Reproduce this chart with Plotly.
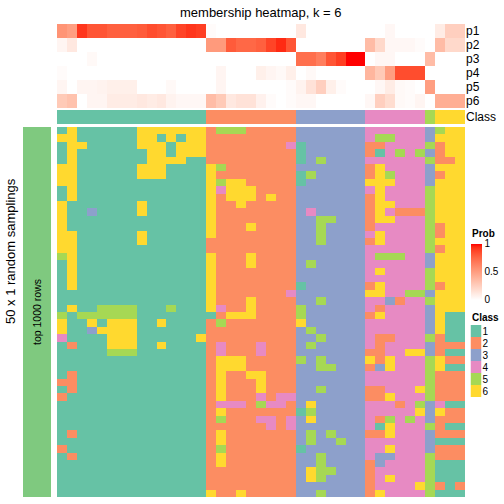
import numpy as np
import plotly.graph_objects as go

# ---------------- data ----------------
columns = list(range(41))
prob_rows = ["p1", "p2", "p3", "p4", "p5", "p6"]

p1 = [0.55, 0.5, 0.92, 0.82, 0.82, 0.78, 0.78, 0.78, 0.8, 0.85, 0.82, 0.78, 0.88, 0.92, 0.9,
      0.02, 0, 0, 0, 0, 0, 0, 0, 0,
      0.12, 0, 0, 0, 0, 0, 0,
      0, 0, 0.04, 0, 0, 0,
      0,
      0.1, 0.25, 0.25]
p2 = [0.05, 0.12, 0, 0, 0, 0, 0, 0, 0, 0, 0, 0, 0, 0, 0,
      0.52, 0.52, 0.8, 0.75, 0.75, 0.78, 0.88, 0.95, 0.82,
      0, 0, 0, 0, 0, 0, 0,
      0.35, 0.2, 0.04, 0.04, 0.04, 0.02,
      0,
      0.35, 0.2, 0.2]
p3 = [0, 0, 0, 0.03, 0, 0, 0, 0, 0, 0, 0, 0, 0, 0, 0,
      0, 0, 0, 0, 0, 0, 0, 0, 0,
      0.72, 0.72, 0.65, 0.82, 0.9, 1.0, 1.0,
      0, 0.04, 0.04, 0, 0, 0,
      0.35,
      0, 0, 0]
p4 = [0.02, 0, 0, 0, 0, 0, 0, 0, 0, 0, 0, 0, 0, 0, 0,
      0, 0.05, 0, 0, 0, 0.08, 0.05, 0.03, 0.08,
      0, 0.03, 0, 0, 0, 0, 0,
      0.38, 0.28, 0.5, 0.85, 0.85, 0.85,
      0,
      0, 0, 0]
p5 = [0.05, 0, 0.05, 0.05, 0.06, 0.08, 0.08, 0.08, 0, 0, 0, 0.03, 0, 0, 0,
      0, 0.05, 0, 0, 0, 0, 0, 0, 0.02,
      0.06, 0.15, 0.25, 0.08, 0.02, 0, 0,
      0, 0.04, 0.1, 0.03, 0.02, 0,
      0.5,
      0, 0, 0]
p6 = [0.28, 0.32, 0, 0.05, 0.05, 0.1, 0.1, 0.1, 0.12, 0.1, 0.12, 0.06, 0.04, 0.04, 0.04,
      0.35, 0.28, 0.12, 0.15, 0.15, 0.07, 0.02, 0, 0.02,
      0.04, 0.04, 0, 0, 0, 0, 0,
      0.04, 0.25, 0.18, 0.03, 0.02, 0.05,
      0,
      0.42, 0.42, 0.42]

column_class = [1, 1, 1, 1, 1, 1, 1, 1, 1, 1, 1, 1, 1, 1, 1,
                2, 2, 2, 2, 2, 2, 2, 2, 2,
                3, 3, 3, 3, 3, 3, 3,
                4, 4, 4, 4, 4, 4,
                5,
                6, 6, 6]

# class assignment of each column in each of the 50 random samplings
sampling_rows = [
    "161111116666666 255522222 3333333 444444 3 566",
    "661111116616166 222222222 3333333 455444 3 666",
    "166111116661666 222222224 1333333 224444 5 266",
    "161111111661666 222222222 1333333 214545 3 266",
    "161111111666611 222222222 1353333 444444 5 226",
    "661111116661111 652222222 3333333 264444 3 666",
    "661111116661111 622222222 1533333 265444 3 266",
    "661111111111111 656622222 1333333 666444 3 666",
    "161111111111111 646662222 3333333 464444 5 666",
    "161111111111111 626662622 3333333 264444 5 666",
    "611111116111111 622622222 3333333 266444 5 666",
    "611311116111111 622222222 3433333 264222 5 666",
    "611111111111111 622222222 3355333 266444 5 666",
    "611111111111111 622262222 3353333 244444 5 266",
    "661111116111111 622222222 3353333 464444 5 266",
    "661111116111111 222222222 3353333 264444 5 666",
    "661111111111111 222222222 3333333 444444 5 266",
    "561111111111111 622262222 3333333 455544 3 666",
    "161111111111111 622262222 3533333 444444 3 666",
    "161111111111111 622222222 3333333 464444 5 666",
    "161111111111111 622222222 3333333 444444 5 666",
    "161111111111111 622222222 1333333 264444 5 266",
    "111111111111111 622222224 3333333 664455 3 666",
    "111111111111111 622262222 3353333 443244 5 666",
    "161155551115111 642262222 5333333 424444 3 666",
    "515555551111111 126662222 5333333 264444 3 611",
    "611616661161111 252222222 6333333 444444 3 611",
    "611366661111111 222222222 3533333 444444 3 611",
    "411116661111116 222222222 3353333 422444 5 211",
    "121116661161111 242224222 3533333 424444 3 222",
    "111115551111111 242224222 3333333 224466 3 211",
    "111111111111111 266622222 5353333 626444 5 622",
    "111111111111111 266622222 3355333 236444 5 611",
    "121111111111111 262266222 3333333 444444 5 222",
    "221111111111111 262226222 3333333 444444 5 222",
    "121111111111111 262226222 3353333 224446 5 222",
    "211111111111111 262224244 3333333 226444 5 222",
    "111111111111111 244425442 3633333 444245 3 411",
    "111111111111111 262222222 1533333 444446 3 622",
    "111111111111111 252224424 3633333 425454 3 222",
    "111111111111111 222222424 3333333 416444 5 211",
    "121111111111111 262222222 3535333 226444 3 222",
    "111111111111111 262222222 3533533 444444 3 111",
    "211111111111111 252222222 1333333 446444 3 222",
    "121111111111111 262222222 3353333 433444 5 222",
    "111111111111111 262222222 3353333 234444 5 111",
    "111111111111111 222222222 3655333 244444 5 111",
    "111111111111111 222222222 3653333 246444 5 111",
    "111111111111111 222222222 3333333 244446 5 212",
    "111111111111111 622622222 3353333 264444 5 111",
]

class_labels = ["1", "2", "3", "4", "5", "6"]
class_colors = ["#66C2A5", "#FC8D62", "#8DA0CB", "#E78AC3", "#A6D854", "#FFD92F"]

# ---------------- helpers ----------------
S = 504.0
FONT = "Liberation Sans, Arial, Helvetica, sans-serif"


def px(v):
    return v / S


def py(v):
    return 1 - v / S


def lab_to_hex(L, a, b):
    fy = (L + 16) / 116
    fx = fy + a / 500
    fz = fy - b / 200

    def finv(t):
        return t ** 3 if t > 6 / 29 else 3 * (6 / 29) ** 2 * (t - 4 / 29)

    X, Y, Z = 0.95047 * finv(fx), finv(fy), 1.08883 * finv(fz)
    r = 3.2406 * X - 1.5372 * Y - 0.4986 * Z
    g = -0.9689 * X + 1.8758 * Y + 0.0415 * Z
    bb = 0.0557 * X - 0.2040 * Y + 1.0570 * Z

    def gam(c):
        c = min(max(c, 0), 1)
        return 12.92 * c if c <= 0.0031308 else 1.055 * c ** (1 / 2.4) - 0.055

    return "#%02x%02x%02x" % tuple(int(round(gam(c) * 255)) for c in (r, g, bb))


white_lab = (100.0, 0.0, 0.0)
red_lab = (53.24, 80.09, 67.20)
prob_scale = []
for t in np.linspace(0, 1, 21):
    lab = [w + t * (r - w) for w, r in zip(white_lab, red_lab)]
    prob_scale.append([float(t), lab_to_hex(*lab)])

class_scale = []
for i, c in enumerate(class_colors):
    class_scale.append([i / 6, c])
    class_scale.append([(i + 1) / 6, c])

matrix = [[int(ch) for ch in r.replace(" ", "")] for r in sampling_rows]
n_rows = len(matrix)

# ---------------- figure ----------------
fig = go.Figure()

fig.add_trace(go.Heatmap(
    z=[p1, p2, p3, p4, p5, p6], x=columns, y=list(range(6)),
    xaxis="x", yaxis="y", colorscale=prob_scale, zmin=0, zmax=1,
    hoverinfo="skip",
    colorbar=dict(
        lenmode="pixels", len=56, thicknessmode="pixels", thickness=11,
        x=px(470.5), xanchor="left", y=py(243.5), yanchor="top",
        xpad=0, ypad=0, outlinewidth=0,
        tickmode="array", tickvals=[0, 0.5, 1], ticktext=["0", "0.5", "1"], ticks="",
        tickfont=dict(size=10, family=FONT, color="black"),
    ),
))

fig.add_trace(go.Heatmap(
    z=[column_class], x=columns, y=[0], xaxis="x", yaxis="y2",
    colorscale=class_scale, zmin=0.5, zmax=6.5, showscale=False, hoverinfo="skip",
))

fig.add_trace(go.Heatmap(
    z=matrix, x=columns, y=list(range(n_rows)), xaxis="x", yaxis="y3",
    colorscale=class_scale, zmin=0.5, zmax=6.5, showscale=False, hoverinfo="skip",
))

fig.add_trace(go.Heatmap(
    z=[[1]], x=[0], y=[0], xaxis="x2", yaxis="y4",
    colorscale=[[0, "#7FC97F"], [1, "#7FC97F"]], showscale=False, hoverinfo="skip",
))

fig.add_trace(go.Heatmap(
    z=[[i + 1] for i in range(6)], x=[0], y=list(range(6)), xaxis="x3", yaxis="y5",
    colorscale=class_scale, zmin=0.5, zmax=6.5, showscale=False, hoverinfo="skip",
))

hidden = dict(showgrid=False, zeroline=False, showticklabels=False, ticks="",
              showline=False, automargin=False, fixedrange=True)
labelled = dict(showgrid=False, zeroline=False, ticks="", showline=False,
                automargin=False, fixedrange=True, side="right", tickmode="array")

fig.update_layout(
    width=504, height=504, template="none",
    margin=dict(l=0, r=0, t=0, b=0, pad=0),
    paper_bgcolor="white", plot_bgcolor="white",
    font=dict(family=FONT, color="black"),
    xaxis=dict(domain=[px(57), px(465)], range=[-0.5, 40.5], anchor="y3", **hidden),
    xaxis2=dict(domain=[px(23), px(51)], range=[-0.5, 0.5], anchor="y4", **hidden),
    xaxis3=dict(domain=[px(470.5), px(481.5)], range=[-0.5, 0.5], anchor="y5", **hidden),
    yaxis=dict(domain=[py(108), py(24)], anchor="x", range=[5.5, -0.5],
               tickvals=list(range(6)), ticktext=prob_rows,
               tickfont=dict(size=12, family=FONT), **labelled),
    yaxis2=dict(domain=[py(124), py(110)], anchor="x", range=[-0.5, 0.5],
                tickvals=[0], ticktext=["Class"],
                tickfont=dict(size=12, family=FONT), **labelled),
    yaxis3=dict(domain=[py(497), py(127)], anchor="x", range=[n_rows - 0.5, -0.5], **hidden),
    yaxis4=dict(domain=[py(497), py(127)], anchor="x2", range=[-0.5, 0.5], **hidden),
    yaxis5=dict(domain=[py(397), py(325)], anchor="x3", range=[5.5, -0.5],
                tickvals=list(range(6)), ticktext=class_labels,
                tickfont=dict(size=10, family=FONT), **labelled),
    annotations=[
        dict(text="membership heatmap, k = 6", x=px(261), y=py(12), xref="paper", yref="paper",
             showarrow=False, xanchor="center", yanchor="middle", font=dict(size=13, family=FONT)),
        dict(text="50 x 1 random samplings", x=px(10), y=py(251), xref="paper", yref="paper",
             showarrow=False, textangle=-90, xanchor="center", yanchor="middle",
             font=dict(size=13, family=FONT)),
        dict(text="top 1000 rows", x=px(37), y=py(312), xref="paper", yref="paper",
             showarrow=False, textangle=-90, xanchor="center", yanchor="middle",
             font=dict(size=10.5, family=FONT)),
        dict(text="<b>Prob</b>", x=px(470), y=py(233), xref="paper", yref="paper",
             showarrow=False, xanchor="left", yanchor="middle", font=dict(size=10, family=FONT)),
        dict(text="<b>Class</b>", x=px(470), y=py(317), xref="paper", yref="paper",
             showarrow=False, xanchor="left", yanchor="middle", font=dict(size=10, family=FONT)),
    ],
)

fig.write_html("out.html", config={"displayModeBar": False},
               post_script="document.body.style.margin='0px';")
